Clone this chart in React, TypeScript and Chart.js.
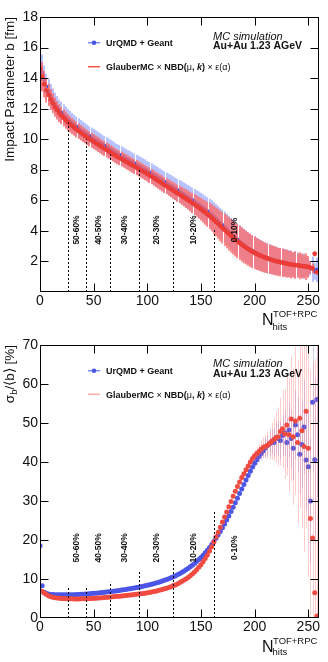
import React, { useEffect, useRef } from "react";
import { Chart, registerables } from "chart.js";

Chart.register(...registerables);

const SANS = '"Liberation Sans", Arial, Helvetica, sans-serif';

// Number of TOF+RPC hits (bin centres)
const nHits = [
  0, 2, 4, 6, 8, 10, 12, 14, 16, 18,
  20, 22, 24, 26, 28, 30, 32, 34, 36, 38,
  40, 42, 44, 46, 48, 50, 52, 54, 56, 58,
  60, 62, 64, 66, 68, 70, 72, 74, 76, 78,
  80, 82, 84, 86, 88, 90, 92, 94, 96, 98,
  100, 102, 104, 106, 108, 110, 112, 114, 116, 118,
  120, 122, 124, 126, 128, 130, 132, 134, 136, 138,
  140, 142, 144, 146, 148, 150, 152, 154, 156, 158,
  160, 162, 164, 166, 168, 170, 172, 174, 176, 178,
  180, 182, 184, 186, 188, 190, 192, 194, 196, 198,
  200, 202, 204, 206, 208, 210, 212, 214, 216, 218,
  220, 222, 224, 226, 228, 230, 232, 234, 236, 238,
  240, 242, 244, 246, 248, 250, 252, 254, 256, 258,
];

// Mean impact parameter <b> [fm]
const urqmdMeanB = [
  14.1, 14.35, 13.9, 13.45, 13.12, 12.82, 12.56, 12.31, 12.1, 11.9,
  11.75, 11.6, 11.45, 11.3, 11.18, 11.06, 10.95, 10.84, 10.73, 10.62,
  10.52, 10.42, 10.32, 10.22, 10.13, 10.04, 9.95, 9.86, 9.77, 9.68,
  9.59, 9.5, 9.41, 9.32, 9.23, 9.14, 9.06, 8.98, 8.9, 8.82,
  8.74, 8.66, 8.58, 8.5, 8.42, 8.34, 8.26, 8.18, 8.1, 8.02,
  7.93, 7.84, 7.75, 7.66, 7.57, 7.48, 7.39, 7.3, 7.21, 7.12,
  7.03, 6.94, 6.85, 6.76, 6.67, 6.58, 6.49, 6.4, 6.31, 6.22,
  6.12, 6.02, 5.92, 5.82, 5.72, 5.62, 5.51, 5.4, 5.29, 5.17,
  5.05, 4.92, 4.79, 4.66, 4.52, 4.38, 4.24, 4.1, 3.96, 3.82,
  3.69, 3.56, 3.43, 3.31, 3.19, 3.08, 2.97, 2.87, 2.78, 2.69,
  2.61, 2.53, 2.46, 2.39, 2.33, 2.27, 2.22, 2.17, 2.12, 2.08,
  2.04, 2.0, 1.97, 1.94, 1.91, 1.88, 1.85, 1.82, 1.8, 1.78,
  1.76, 1.74, 1.72, 1.7, 1.68, 1.62, 1.55, 1.5, 1.35, 1.45,
];

const glauberMeanB = [
  14.6, 14.1, 13.6, 13.2, 12.9, 12.6, 12.35, 12.1, 11.9, 11.7,
  11.55, 11.4, 11.25, 11.1, 10.98, 10.86, 10.75, 10.64, 10.53, 10.42,
  10.32, 10.22, 10.12, 10.02, 9.93, 9.84, 9.75, 9.66, 9.57, 9.48,
  9.39, 9.3, 9.21, 9.12, 9.03, 8.94, 8.86, 8.78, 8.7, 8.62,
  8.54, 8.46, 8.38, 8.3, 8.22, 8.14, 8.06, 7.98, 7.9, 7.82,
  7.73, 7.64, 7.55, 7.46, 7.37, 7.28, 7.19, 7.1, 7.01, 6.92,
  6.83, 6.74, 6.65, 6.56, 6.47, 6.38, 6.29, 6.2, 6.11, 6.02,
  5.92, 5.82, 5.72, 5.62, 5.52, 5.42, 5.31, 5.2, 5.09, 4.97,
  4.85, 4.72, 4.59, 4.46, 4.33, 4.2, 4.07, 3.94, 3.81, 3.68,
  3.56, 3.44, 3.32, 3.21, 3.1, 3.0, 2.9, 2.81, 2.72, 2.64,
  2.56, 2.49, 2.42, 2.36, 2.3, 2.25, 2.2, 2.15, 2.1, 2.06,
  2.02, 1.98, 1.95, 1.92, 1.89, 1.86, 1.83, 1.8, 1.78, 1.76,
  1.74, 1.72, 1.7, 1.68, 1.66, 1.64, 1.6, 1.55, 2.5, 1.3,
];

// Relative width sigma_b / <b> [%]
const urqmdWidthPct = [
  18.5, 8.3, 6.6, 6.3, 6.15, 6.05, 6.0, 5.97, 5.95, 5.94,
  5.93, 5.93, 5.93, 5.94, 5.95, 5.97, 5.99, 6.01, 6.04, 6.07,
  6.1, 6.14, 6.18, 6.22, 6.27, 6.32, 6.37, 6.42, 6.48, 6.54,
  6.6, 6.66, 6.72, 6.79, 6.86, 6.93, 7.0, 7.08, 7.16, 7.24,
  7.32, 7.41, 7.5, 7.6, 7.7, 7.8, 7.91, 8.02, 8.14, 8.26,
  8.39, 8.52, 8.66, 8.81, 8.96, 9.12, 9.29, 9.47, 9.66, 9.86,
  10.07, 10.3, 10.54, 10.8, 11.07, 11.36, 11.67, 12.0, 12.35, 12.72,
  13.12, 13.54, 13.99, 14.47, 14.98, 15.52, 16.1, 16.72, 17.38, 18.08,
  18.82, 19.6, 20.42, 21.28, 22.18, 23.12, 24.1, 25.12, 26.18, 27.28,
  28.4, 29.55, 30.72, 31.9, 33.08, 34.25, 35.4, 36.55, 37.65, 38.7,
  39.7, 40.6, 41.4, 42.2, 42.9, 43.6, 44.2, 44.7, 45.3, 45.0,
  46.3, 46.0, 45.5, 46.8, 47.5, 45.0, 48.2, 46.0, 43.5, 49.5,
  47.0, 42.0, 44.5, 49.0, 40.5, 38.8, 30.0, 55.3, 40.6, 56.0,
];

const glauberWidthPct = [
  7.0, 6.8, 6.4, 6.0, 5.7, 5.45, 5.3, 5.2, 5.1, 5.05,
  5.0, 4.97, 4.95, 4.93, 4.92, 4.91, 4.9, 4.9, 4.9, 4.91,
  4.92, 4.94, 4.96, 4.98, 5.01, 5.04, 5.08, 5.12, 5.16, 5.2,
  5.25, 5.3, 5.35, 5.4, 5.45, 5.5, 5.55, 5.6, 5.65, 5.7,
  5.76, 5.82, 5.88, 5.94, 6.0, 6.07, 6.14, 6.21, 6.29, 6.37,
  6.46, 6.56, 6.66, 6.77, 6.89, 7.02, 7.16, 7.31, 7.47, 7.64,
  7.83, 8.03, 8.25, 8.49, 8.75, 9.03, 9.33, 9.66, 10.02, 10.41,
  10.84, 11.31, 11.82, 12.38, 13.0, 13.68, 14.43, 15.26, 16.18, 17.2,
  18.3, 19.5, 20.8, 22.0, 23.3, 24.6, 25.9, 27.2, 28.5, 29.9,
  31.2, 32.5, 33.7, 34.9, 36.0, 37.0, 38.0, 39.0, 40.0, 40.9,
  41.6, 42.2, 42.7, 43.3, 43.8, 44.0, 44.3, 44.8, 45.3, 45.8,
  46.3, 46.5, 47.8, 48.5, 47.2, 49.5, 47.0, 51.0, 46.5, 50.5,
  45.0, 51.2, 48.0, 44.0, 53.0, 43.5, 25.5, 20.5, 6.5, 0.5,
];

// Statistical uncertainty of sigma_b / <b> [%]
const urqmdWidthErr = [
  0.1, 0.1, 0.1, 0.1, 0.1, 0.1, 0.1, 0.1, 0.1, 0.1,
  0.1, 0.1, 0.1, 0.1, 0.1, 0.1, 0.1, 0.1, 0.1, 0.1,
  0.1, 0.1, 0.1, 0.1, 0.1, 0.1, 0.1, 0.1, 0.1, 0.1,
  0.1, 0.1, 0.1, 0.1, 0.1, 0.1, 0.1, 0.1, 0.1, 0.1,
  0.1, 0.1, 0.1, 0.1, 0.1, 0.1, 0.1, 0.1, 0.1, 0.1,
  0.2, 0.2, 0.2, 0.2, 0.2, 0.2, 0.2, 0.2, 0.2, 0.2,
  0.2, 0.2, 0.2, 0.2, 0.2, 0.2, 0.2, 0.2, 0.2, 0.2,
  0.2, 0.2, 0.2, 0.2, 0.2, 0.2, 0.2, 0.2, 0.2, 0.2,
  0.4, 0.4, 0.4, 0.4, 0.4, 0.4, 0.4, 0.4, 0.4, 0.4,
  0.4, 0.4, 0.4, 0.5, 0.6, 0.7, 0.8, 0.9, 1.0, 1.1,
  1.2, 1.4, 1.6, 1.8, 2.0, 2.3, 2.6, 2.9, 3.2, 3.6,
  4.0, 4.4, 4.8, 5.3, 5.8, 6.3, 6.9, 7.5, 8.1, 8.8,
  9.5, 10.3, 11.1, 12.0, 13.0, 14.0, 16.0, 18.0, 21.0, 25.0,
];

const glauberWidthErr = [
  0.1, 0.1, 0.1, 0.1, 0.1, 0.1, 0.1, 0.1, 0.1, 0.1,
  0.1, 0.1, 0.1, 0.1, 0.1, 0.1, 0.1, 0.1, 0.1, 0.1,
  0.1, 0.1, 0.1, 0.1, 0.1, 0.1, 0.1, 0.1, 0.1, 0.1,
  0.1, 0.1, 0.1, 0.1, 0.1, 0.1, 0.1, 0.1, 0.1, 0.1,
  0.1, 0.1, 0.1, 0.1, 0.1, 0.1, 0.1, 0.1, 0.1, 0.1,
  0.2, 0.2, 0.2, 0.2, 0.2, 0.2, 0.2, 0.2, 0.2, 0.2,
  0.2, 0.2, 0.2, 0.2, 0.2, 0.2, 0.2, 0.2, 0.2, 0.2,
  0.2, 0.2, 0.2, 0.2, 0.2, 0.2, 0.2, 0.2, 0.2, 0.2,
  0.4, 0.4, 0.4, 0.4, 0.4, 0.4, 0.4, 0.4, 0.4, 0.4,
  0.4, 0.4, 0.4, 0.6, 0.7, 0.8, 0.9, 1.0, 1.1, 1.3,
  1.5, 1.7, 1.9, 2.2, 2.5, 3.0, 3.5, 4.0, 4.7, 5.5,
  6.5, 7.5, 8.7, 10.0, 11.5, 13.0, 14.5, 16.0, 17.5, 19.0,
  21.0, 23.0, 25.0, 27.0, 30.0, 33.0, 38.0, 45.0, 60.0, 75.0,
];

// Centrality classes: cut positions in N_hits and label placement
const centralityCuts = [26, 43, 65, 92, 124, 162];
const cutTopB = [11.1, 10.0, 9.0, 8.1, 6.0, 4.05];
const cutTopWidth = [7.7, 7.7, 9.3, 12.2, 15.2, 27.2];
const classLabels = ["50-60%", "40-50%", "30-40%", "20-30%", "10-20%", "0-10%"];
const classLabelN = [34.5, 54.5, 78.8, 108.4, 143.6, 181.6];

const xTickValues = [0, 50, 100, 150, 200, 250];

type Piece = [string, string, number?];

function drawPieces(ctx: CanvasRenderingContext2D, x: number, y: number, pieces: Piece[]) {
  let cx = x;
  for (const [text, font, dy] of pieces) {
    ctx.font = font;
    ctx.fillText(text, cx, y + (dy || 0));
    cx += ctx.measureText(text).width;
  }
  return cx;
}

function piecesWidth(ctx: CanvasRenderingContext2D, pieces: Piece[]) {
  let w = 0;
  for (const [text, font] of pieces) {
    ctx.font = font;
    w += ctx.measureText(text).width;
  }
  return w;
}

const errorBarPlugin = {
  id: "errorBars",
  beforeDatasetDraw(chart: any, args: any) {
    const ds: any = chart.data.datasets[args.index];
    if (!ds.errors) return;
    const { ctx, chartArea: a, scales } = chart;
    ctx.save();
    ctx.beginPath();
    ctx.rect(a.left, a.top, a.right - a.left, a.bottom - a.top);
    ctx.clip();
    ctx.strokeStyle = ds.errorColor;
    ctx.lineWidth = ds.errorWidth;
    ctx.beginPath();
    ds.data.forEach((p: any, i: number) => {
      const e = ds.errors[i];
      const px = Math.round(scales.x.getPixelForValue(p.x)) + (ds.errorWidth === 1 ? 0.5 : 0);
      ctx.moveTo(px, scales.y.getPixelForValue(p.y + e));
      ctx.lineTo(px, scales.y.getPixelForValue(p.y - e));
    });
    ctx.stroke();
    ctx.restore();
  },
};

type Series = { y: number[]; err: number[]; bar: string; barWidth: number; fill: string; r: number };

type PanelSpec = {
  areaTop: number;
  areaBottom: number;
  yMax: number;
  yStep: number;
  showZero: boolean;
  blue: Series;
  red: Series;
  cutTops: number[];
  labelAt: number;
  yTitle: Piece[];
  yTitleEnd: number;
  legendBlueY: number;
  legendRedY: number;
  legendRedLine: string;
  legendBlueLine: string;
  mcY: number;
  beamY: number;
  xTitleN: number;
  xTitleSup: number;
  xTitleSub: number;
};

function decorPlugin(spec: PanelSpec) {
  return {
    id: "decor",
    afterDatasetsDraw(chart: any) {
      const { ctx, chartArea: a, scales } = chart;
      ctx.save();
      // centrality cut lines
      ctx.strokeStyle = "#000";
      ctx.lineWidth = 1;
      ctx.setLineDash([2, 2]);
      centralityCuts.forEach((n, i) => {
        const px = Math.round(scales.x.getPixelForValue(n)) + 0.5;
        ctx.beginPath();
        ctx.moveTo(px, a.bottom);
        ctx.lineTo(px, scales.y.getPixelForValue(spec.cutTops[i]));
        ctx.stroke();
      });
      ctx.setLineDash([]);
      // centrality class labels
      ctx.fillStyle = "#111";
      ctx.font = `bold 8.5px ${SANS}`;
      ctx.textAlign = "center";
      ctx.textBaseline = "middle";
      classLabels.forEach((t, i) => {
        ctx.save();
        ctx.translate(scales.x.getPixelForValue(classLabelN[i]), scales.y.getPixelForValue(spec.labelAt));
        ctx.rotate(-Math.PI / 2);
        ctx.fillText(t, 0, 0);
        ctx.restore();
      });
      ctx.restore();
    },
    afterDraw(chart: any) {
      const { ctx, chartArea: a, scales } = chart;
      ctx.save();
      // frame and inward ticks
      ctx.strokeStyle = "#000";
      ctx.lineWidth = 1;
      const L = a.left + 0.5;
      const R = a.right - 0.5;
      const T = a.top + 0.5;
      const B = a.bottom - 0.5;
      ctx.strokeRect(L, T, R - L, B - T);
      ctx.beginPath();
      xTickValues.forEach((v) => {
        const px = Math.round(scales.x.getPixelForValue(v)) + 0.5;
        ctx.moveTo(px, B);
        ctx.lineTo(px, B - 8);
        ctx.moveTo(px, T);
        ctx.lineTo(px, T + 8);
      });
      for (let v = spec.yStep; v < spec.yMax; v += spec.yStep) {
        const py = Math.round(scales.y.getPixelForValue(v)) + 0.5;
        ctx.moveTo(L, py);
        ctx.lineTo(L + 8, py);
        ctx.moveTo(R, py);
        ctx.lineTo(R - 8, py);
      }
      ctx.stroke();

      ctx.fillStyle = "#111";
      ctx.textAlign = "left";
      ctx.textBaseline = "alphabetic";

      // y-axis title (rotated, aligned to the top of the axis)
      ctx.save();
      ctx.translate(14, spec.yTitleEnd);
      ctx.rotate(-Math.PI / 2);
      const w = piecesWidth(ctx, spec.yTitle);
      drawPieces(ctx, -w, 0, spec.yTitle);
      ctx.restore();

      // x-axis title
      ctx.font = `16px ${SANS}`;
      ctx.fillText("N", 262, spec.xTitleN);
      ctx.font = `9.5px ${SANS}`;
      ctx.fillText("TOF+RPC", 273, spec.xTitleSup);
      ctx.fillText("hits", 272.5, spec.xTitleSub);

      // legend
      ctx.strokeStyle = spec.legendBlueLine;
      ctx.lineWidth = 1.5;
      ctx.beginPath();
      ctx.moveTo(88, spec.legendBlueY);
      ctx.lineTo(100, spec.legendBlueY);
      ctx.stroke();
      ctx.fillStyle = spec.blue.fill;
      ctx.beginPath();
      ctx.arc(94, spec.legendBlueY, 2.3, 0, Math.PI * 2);
      ctx.fill();
      ctx.strokeStyle = spec.legendRedLine;
      ctx.beginPath();
      ctx.moveTo(88, spec.legendRedY);
      ctx.lineTo(100, spec.legendRedY);
      ctx.stroke();

      ctx.fillStyle = "#111";
      const b9 = `bold 9px ${SANS}`;
      const r9 = `9px ${SANS}`;
      drawPieces(ctx, 106, spec.legendBlueY + 3.3, [["UrQMD + Geant", b9]]);
      drawPieces(ctx, 106, spec.legendRedY + 3.3, [
        ["GlauberMC", b9],
        [" \u00d7 ", r9],
        ["NBD(", b9],
        ["\u03bc", r9],
        [", ", b9],
        ["k", `italic bold 9px ${SANS}`],
        [")", b9],
        [" \u00d7 ", r9],
        ["\u03b5(\u03b1)", r9],
      ]);

      ctx.font = `italic 11px ${SANS}`;
      ctx.fillText("MC simulation", 213, spec.mcY);
      ctx.font = `bold 10.5px ${SANS}`;
      ctx.fillText("Au+Au 1.23 AGeV", 213, spec.beamY);
      ctx.restore();
    },
  };
}

function buildConfig(spec: PanelSpec): any {
  const height = 331;
  const makeSet = (label: string, s: Series) => ({
    label,
    data: nHits.map((n, i) => ({ x: n, y: s.y[i] })),
    errors: s.err,
    errorColor: s.bar,
    errorWidth: s.barWidth,
    pointRadius: s.r,
    pointHoverRadius: s.r,
    pointBorderWidth: 0,
    pointBackgroundColor: s.fill,
    showLine: false,
  });
  return {
    type: "scatter",
    data: {
      datasets: [makeSet("GlauberMC", spec.red), makeSet("UrQMD + Geant", spec.blue)],
    },
    options: {
      responsive: false,
      animation: false,
      devicePixelRatio: 1,
      events: [],
      layout: { padding: { left: 0, right: 9, top: spec.areaTop, bottom: 0 } },
      plugins: { legend: { display: false }, tooltip: { enabled: false } },
      scales: {
        x: {
          type: "linear",
          min: 0,
          max: 260,
          grid: { display: false, drawTicks: false },
          border: { display: false },
          ticks: {
            padding: 1,
            maxRotation: 0,
            autoSkip: false,
            color: "#111",
            font: { family: SANS, size: 14 },
          },
          afterBuildTicks: (s: any) => {
            s.ticks = xTickValues.map((v) => ({ value: v }));
          },
          afterFit: (s: any) => {
            s.height = height - spec.areaBottom;
          },
        },
        y: {
          min: 0,
          max: spec.yMax,
          grid: { display: false, drawTicks: false },
          border: { display: false },
          ticks: {
            stepSize: spec.yStep,
            padding: 2,
            autoSkip: false,
            color: "#111",
            font: { family: SANS, size: 14 },
            callback: (v: number) => (v === 0 && !spec.showZero ? "" : String(v)),
          },
          afterFit: (s: any) => {
            s.width = 40;
          },
        },
      },
    },
    plugins: [errorBarPlugin, decorPlugin(spec)],
  };
}

const topSpec: PanelSpec = {
  areaTop: 17,
  areaBottom: 292,
  yMax: 18,
  yStep: 2,
  showZero: false,
  blue: {
    y: urqmdMeanB,
    err: urqmdMeanB.map((b, i) => (b * urqmdWidthPct[i]) / 100),
    bar: "rgb(160, 175, 255)",
    barWidth: 1.5,
    fill: "rgb(70, 85, 225)",
    r: 2,
  },
  red: {
    y: glauberMeanB,
    err: glauberMeanB.map((b, i) => (b * glauberWidthPct[i]) / 100),
    bar: "rgb(255, 105, 100)",
    barWidth: 1.5,
    fill: "rgb(235, 60, 55)",
    r: 2.4,
  },
  cutTops: cutTopB,
  labelAt: 4.06,
  yTitle: [["Impact Parameter b [fm]", `13.5px ${SANS}`]],
  yTitleEnd: 17,
  legendBlueY: 42.7,
  legendRedY: 66.7,
  legendRedLine: "rgb(245, 80, 75)",
  legendBlueLine: "rgb(120, 140, 255)",
  mcY: 40,
  beamY: 49,
  xTitleN: 325,
  xTitleSup: 317,
  xTitleSub: 329.5,
};

const bottomSpec: PanelSpec = {
  areaTop: 14,
  areaBottom: 287,
  yMax: 70,
  yStep: 10,
  showZero: true,
  blue: {
    y: urqmdWidthPct,
    err: urqmdWidthErr,
    bar: "rgba(130, 120, 230, 0.35)",
    barWidth: 1,
    fill: "rgb(75, 85, 230)",
    r: 2.5,
  },
  red: {
    y: glauberWidthPct,
    err: glauberWidthErr,
    bar: "rgba(255, 110, 110, 0.35)",
    barWidth: 1,
    fill: "rgb(240, 75, 65)",
    r: 2.5,
  },
  cutTops: cutTopWidth,
  labelAt: 18,
  yTitle: [
    ["\u03c3", `13.5px ${SANS}`],
    ["b", `9.5px ${SANS}`, 3],
    ["/\u27e8b\u27e9 [%]", `13.5px ${SANS}`],
  ],
  yTitleEnd: 14,
  legendBlueY: 39.7,
  legendRedY: 63.3,
  legendRedLine: "rgba(255, 110, 110, 0.6)",
  legendBlueLine: "rgb(120, 140, 255)",
  mcY: 35.5,
  beamY: 45.5,
  xTitleN: 320.7,
  xTitleSup: 313,
  xTitleSub: 324,
};

function Panel({ spec }: { spec: PanelSpec }) {
  const ref = useRef<HTMLCanvasElement>(null);
  useEffect(() => {
    const chart = new Chart(ref.current as HTMLCanvasElement, buildConfig(spec));
    return () => chart.destroy();
  }, [spec]);
  return (
    <canvas
      ref={ref}
      width={328}
      height={331}
      style={{ display: "block", width: 328, height: 331 }}
    />
  );
}

export default function App() {
  return (
    <div style={{ position: "absolute", left: 0, top: 0, width: 328, height: 662, background: "#fff" }}>
      <Panel spec={topSpec} />
      <Panel spec={bottomSpec} />
    </div>
  );
}
